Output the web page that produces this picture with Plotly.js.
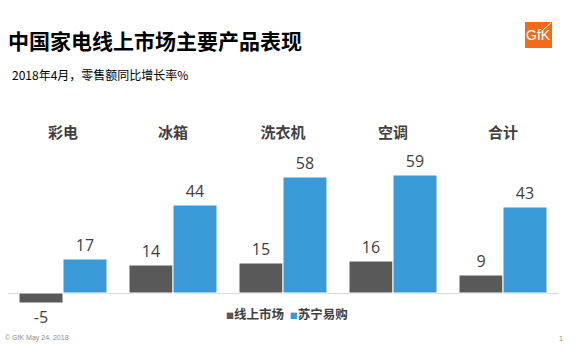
<!DOCTYPE html>
<html><head><meta charset="utf-8">
<script src="https://cdn.plot.ly/plotly-3.0.1.min.js"></script>
<style>html,body{margin:0;padding:0;background:#fff}#chart{width:579px;height:357px}</style>
</head><body><div id="chart"></div>
<script>
const categories = ['彩电', '冰箱', '洗衣机', '空调', '合计'];
const onlineMarket = [-5, 14, 15, 16, 9];
const suning = [17, 44, 58, 59, 43];
const seriesNames = ['线上市场', '苏宁易购'];
const seriesColors = ['#595959', '#3a9ad8'];

const CJK = '"Microsoft YaHei","Noto Sans CJK SC","Noto Sans",sans-serif';
const NUM = '"Open Sans","Noto Sans CJK SC",sans-serif';
const W = 579, H = 357;

const traces = [
  {type:'bar', name:seriesNames[0], x:categories, y:onlineMarket,
   marker:{color:seriesColors[0], line:{color:'#ffffff', width:1}},
   text:onlineMarket.map(String), textposition:'outside', cliponaxis:false,
   textfont:{family:NUM, size:16, color:'#404040'}},
  {type:'bar', name:seriesNames[1], x:categories, y:suning,
   marker:{color:seriesColors[1], line:{color:'#ffffff', width:1}},
   text:suning.map(String), textposition:'outside', cliponaxis:false,
   textfont:{family:NUM, size:16, color:'#404040'}}
];

const legendText = seriesNames.map((n, i) =>
  '<span style="color:' + seriesColors[i] + ';font-size:8px">■</span>' + n).join('  ');

const layout = {
  width:W, height:H,
  margin:{l:8, r:21, t:147, b:25},
  paper_bgcolor:'#ffffff', plot_bgcolor:'#ffffff',
  barmode:'group', bargap:0.2, bargroupgap:0,
  showlegend:false,
  title:{text:'中国家电线上市场主要产品表现', xref:'container', yref:'container',
         x:8/W, xanchor:'left', y:1-42/H, yanchor:'middle',
         font:{family:CJK, size:21, color:'#000000', weight:'bold'}},
  xaxis:{side:'top', showline:false, ticks:'', showgrid:false, zeroline:false,
         tickfont:{family:CJK, size:15, color:'#404040', weight:'bold'}, ticklabelstandoff:5},
  yaxis:{range:[-19.5, 73], showticklabels:false, showgrid:false, ticks:'',
         zeroline:true, zerolinecolor:'#d9d9d9', zerolinewidth:1, showline:false, fixedrange:true},
  shapes:[
    {type:'rect', xref:'paper', yref:'paper', x0:(525-8)/550, x1:(552-8)/550,
     y0:(332-48)/185, y1:(332-22)/185, fillcolor:'#f26b1d', line:{width:0}},
    {type:'line', xref:'paper', yref:'paper', x0:(543-8)/550, x1:(551-8)/550,
     y0:(332-30)/185, y1:(332-23)/185, line:{color:'#ffffff', width:1}}
  ],
  annotations:[
    {text:legendText, xref:'paper', yref:'paper', x:(286.5-8)/550, xanchor:'center',
     y:(332-313)/185, yanchor:'middle', showarrow:false,
     font:{family:CJK, size:12.5, color:'#404040', weight:'bold'}},
    {text:'2018年4月，零售额同比增长率%', xref:'paper', yref:'paper',
     x:(10-8)/550, xanchor:'left', y:(332-74)/185, yanchor:'middle', showarrow:false,
     font:{family:CJK, size:12, color:'#000000'}},
    {text:'GfK', xref:'paper', yref:'paper', x:(538.5-8)/550, xanchor:'center',
     y:(332-35)/185, yanchor:'middle', showarrow:false,
     font:{family:'"Liberation Sans",sans-serif', size:14, color:'#ffffff'}},
    {text:'© GfK May 24, 2018', xref:'paper', yref:'paper', x:(3-8)/550, xanchor:'left',
     y:(332-338)/185, yanchor:'middle', showarrow:false,
     font:{family:'"Liberation Sans",sans-serif', size:7, color:'#8c8c8c'}},
    {text:'1', xref:'paper', yref:'paper', x:(561-8)/550, xanchor:'center',
     y:(332-338)/185, yanchor:'middle', showarrow:false,
     font:{family:'"Liberation Sans",sans-serif', size:7, color:'#8c8c8c'}}
  ]
};

Plotly.newPlot('chart', traces, layout, {displayModeBar:false, staticPlot:true});
</script></body></html>
